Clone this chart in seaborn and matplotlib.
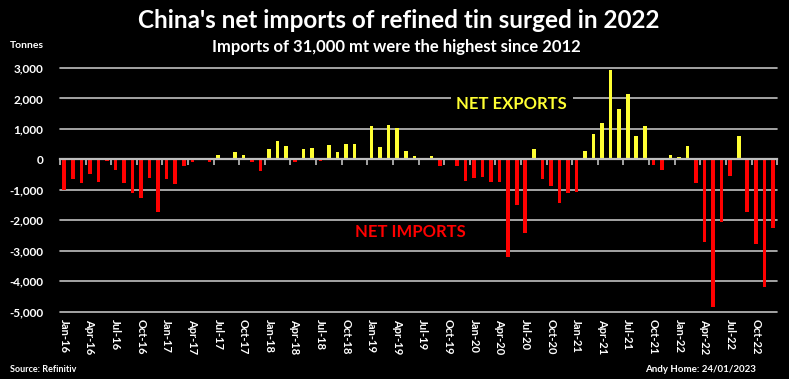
"""
China refined tin net trade chart.
"""

import numpy as np
import pandas as pd
import matplotlib
matplotlib.use("Agg")
import matplotlib.pyplot as plt
import seaborn as sns

# monthly net trade, tonnes (positive = net exports)
months = [d.strftime("%b-%y") for d in pd.date_range("2016-01-01", "2022-12-01", freq="MS")]
net_trade = [
    -1000, -660, -790, -490, -750, -50, -350, -770, -1090, -1260, -620, -1720,   # 2016
    -660, -810, -220, -70, -20, -100, 140, 20, 230, 160, -100, -370,             # 2017
    340, 600, 430, -100, 340, 360, -60, 470, 230, 490, 500, -20,                 # 2018
    1100, 410, 1130, 1030, 270, 110, 40, 110, -210, 30, -220, -700,              # 2019
    -620, -580, -750, -750, -3200, -1490, -2420, 330, -660, -860, -1420, -1090,  # 2020
    -1080, 290, 840, 1210, 2950, 1660, 2150, 760, 1090, -180, -340, 140,         # 2021
    80, 430, -760, -2710, -4840, -2040, -550, 760, -1730, -2780, -4200, -2260,   # 2022
]
y_ticks = [-5000, -4000, -3000, -2000, -1000, 0, 1000, 2000, 3000]

RED = "#ff0000"
YELLOW = "#ffff33"
GRID = "#bfbfbf"

sns.set_style("dark")
plt.rcParams['font.family'] = ['Lato', 'DejaVu Sans']
plt.rcParams['font.weight'] = 'bold'

df = pd.DataFrame({"month": months, "value": net_trade})
df["sign"] = np.where(df["value"] >= 0, "exports", "imports")

fig = plt.figure(figsize=(7.89, 3.79), dpi=100, facecolor="black")
ax = fig.add_axes([0.076, 0.1776, 0.909, 0.643])
ax.set_facecolor("black")

sns.barplot(data=df, x="month", y="value", hue="sign", order=months,
            palette={"exports": YELLOW, "imports": RED}, saturation=1,
            dodge=False, width=0.42, legend=False, ax=ax, zorder=3,
            linewidth=0, edgecolor="none")

ax.set_xlim(-0.5, len(months) - 0.5)
ax.set_ylim(-5000, 3000)
ax.set_yticks(y_ticks)
ax.set_yticklabels([f"{v:,}" for v in y_ticks], fontweight="bold")
ax.yaxis.grid(True, color=GRID, linewidth=1.2)
ax.xaxis.grid(False)
for line in ax.get_ygridlines():
    line.set_clip_on(False)
for s in ax.spines.values():
    s.set_visible(False)

ax.set_xticks(range(0, len(months), 3))
ax.set_xticklabels(months[::3], rotation=-90, va="top", ha="center",
                   fontweight="bold")
ax.tick_params(axis="x", length=0, pad=5, labelsize=8, labelcolor="white")
ax.tick_params(axis="y", length=0, pad=12, labelsize=8.5, labelcolor="white")
ax.set_xlabel("")
ax.set_ylabel("")

# zero line with quarter boundary ticks
zero = ax.secondary_xaxis(5000 / 8000)
zero.set_alignment("bottom")
zero.set_xticks(np.arange(-0.5, len(months), 3))
zero.tick_params(axis="x", direction="out", length=4, width=1.2, color=GRID,
                 labelbottom=False, labeltop=False)
zero.spines["bottom"].set_color(GRID)
zero.spines["bottom"].set_linewidth(1.6)
zero.set_zorder(4)

ax.text(52.4, 1810, "NET EXPORTS", color=YELLOW, fontsize=12, ha="center",
        va="center", zorder=5,
        bbox=dict(facecolor="black", edgecolor="none", pad=4))
ax.text(40.5, -2370, "NET IMPORTS", color=RED, fontsize=12, ha="center",
        va="center", zorder=5)

fig.text(0.506, 0.947, "China's net imports of refined tin surged in 2022",
         color="white", fontsize=17.5, ha="center", va="center")
fig.text(0.503, 0.876, "Imports of 31,000 mt were the highest since 2012",
         color="white", fontsize=12, ha="center", va="center")
fig.text(0.013, 0.879, "Tonnes", color="white", fontsize=7.5, ha="left", va="center")
fig.text(0.013, 0.024, "Source: Refinitiv", color="white", fontsize=6.5,
         ha="left", va="center")
fig.text(0.958, 0.024, "Andy Home: 24/01/2023", color="white", fontsize=7,
         ha="right", va="center")

fig.savefig("out.png", dpi=100, facecolor="black")
